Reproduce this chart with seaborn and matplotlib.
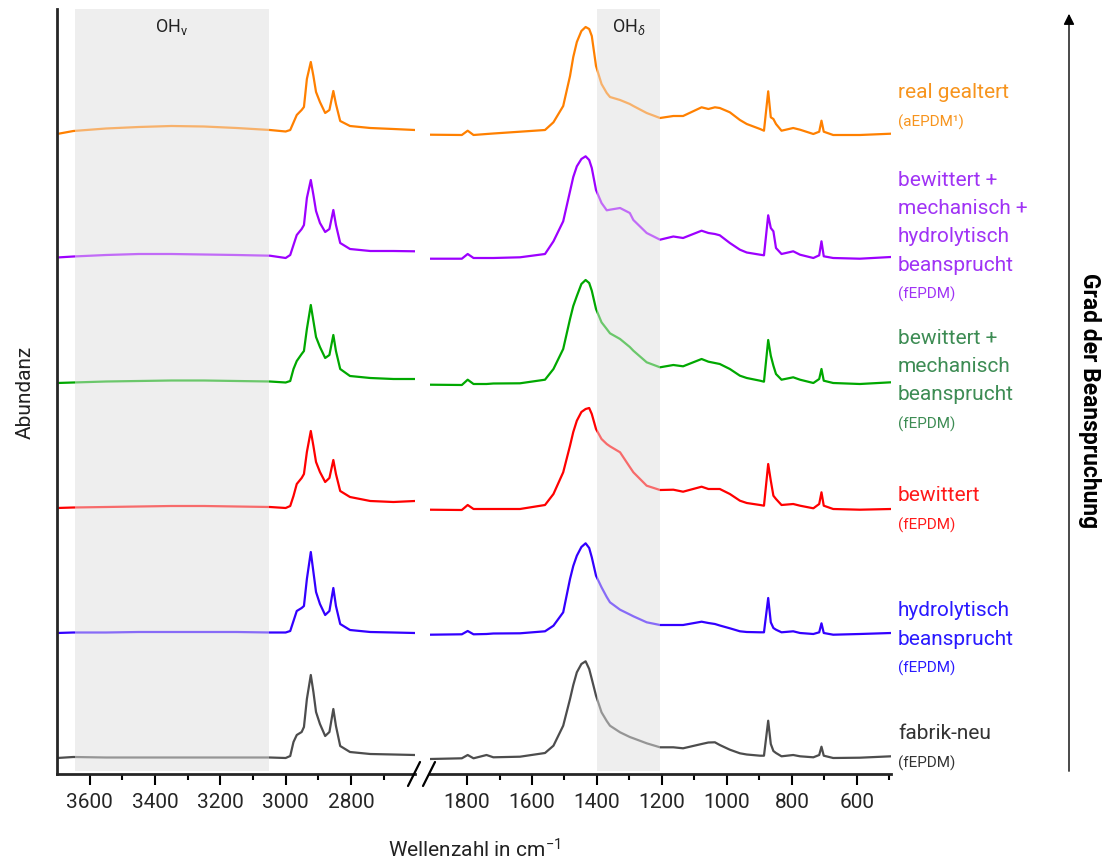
import numpy as np
import pandas as pd
import matplotlib
matplotlib.use('Agg')
import matplotlib.pyplot as plt
from matplotlib.lines import Line2D
import seaborn as sns

sns.set_style('ticks')
plt.rcParams['font.family'] = ['Roboto', 'DejaVu Sans']
plt.rcParams['mathtext.fontset'] = 'custom'
plt.rcParams['mathtext.rm'] = 'Roboto'
plt.rcParams['mathtext.it'] = 'Roboto:italic'
plt.rcParams['mathtext.bf'] = 'Roboto:bold'

# Proben, von unten nach oben
probes = ['fabrik-neu', 'hydrolytisch', 'bewittert', 'bew_mech', 'bew_mech_hydro', 'real gealtert']
line_colors = ['#4d4d4d', '#3300ff', '#ff0000', '#00a800', '#9d00ff', '#ff8000']
text_colors = ['#333333', '#2a1aff', '#ff1a1a', '#3d8c54', '#a033f5', '#f7941d']
label_lines = [['fabrik-neu'],
               ['hydrolytisch', 'beansprucht'],
               ['bewittert'],
               ['bewittert +', 'mechanisch', 'beansprucht'],
               ['bewittert +', 'mechanisch +', 'hydrolytisch', 'beansprucht'],
               ['real gealtert']]
sub_labels = ['(fEPDM)', '(fEPDM)', '(fEPDM)', '(fEPDM)', '(fEPDM)', '(aEPDM¹)']

# Wellenzahlen (cm^-1)
wn_left = [3700, 3650, 3550, 3450, 3350, 3250, 3150, 3048, 3000, 2986, 2976, 2966, 2951, 2944,
           2935, 2923, 2915, 2907, 2895, 2879, 2866, 2854, 2846, 2833, 2803, 2741, 2670, 2604]
wn_right = [1914, 1816, 1798, 1780, 1740, 1719, 1637, 1560, 1534, 1504,
            1483, 1473, 1462, 1448, 1435, 1424, 1416, 1403, 1386, 1370, 1360, 1329, 1299,
            1288, 1247, 1206, 1165, 1135, 1078, 1057, 1037, 1022, 991,
            960, 939, 898, 886, 873, 865, 857, 849, 832, 796,
            775, 734, 716, 709, 702, 673, 591, 495]

# Abundanz (relativ, x100) - OH/CH-Bereich
neu_left = [0, 1, 0.5, 0.5, 0.5, 0.5, 0.5, 0.5, 0, 2, 16, 23, 26, 31, 59, 83, 66, 46, 34, 22, 26, 49, 32, 12, 6, 4, 3.5, 3]
hydro_left = [0, 0.5, 0.5, 1, 1, 1, 1, 0.5, 0.5, 2, 12, 22, 25, 27, 54, 81, 61, 41, 29, 18, 22, 45, 27, 9, 3, 1, 0.5, 0]
bew_left = [0, 0.5, 1, 1.5, 2, 2, 1.5, 1, 0, 2, 12, 24, 30, 34, 56, 77, 62, 46, 36, 26, 30, 48, 34, 17, 11, 7, 6, 7]
bew_mech_left = [0, 0.5, 1.5, 2, 2.5, 2.5, 2, 1.5, 0.5, 2, 14, 22, 29, 32, 54, 78, 62, 46, 36, 25, 28, 48, 32, 14, 7, 5, 4, 4]
bew_mech_hydro_left = [0.5, 1.5, 3, 4, 4, 3.5, 3, 2.3, 0, 3, 13, 23, 29, 33, 60, 78, 63, 47, 35, 26, 29, 48, 33, 15, 9, 7, 7, 6.7]
real_left = [-1, 2, 4.5, 6, 7, 6.5, 5, 3, 1.5, 3, 10.5, 18, 23, 26, 54, 71, 57, 41, 31, 20, 23, 42, 29, 12, 7, 5, 4, 3]

# Abundanz (relativ, x100) - Fingerprint-Bereich
neu_right = [-1, -0.3, 3, -0.3, 3, 0.7, 1.3, 5, 12.3, 32.3,
             59, 73, 85.7, 94, 96.7, 89, 79, 62.3, 45.7, 37, 32.3, 25.7, 21,
             19.7, 14.7, 10.7, 10.7, 9.7, 14, 15.5, 15.7, 13, 8.3,
             4.7, 3.5, 2.3, 2.3, 37.3, 14, 7, 5, 1.7, 3,
             1.7, 0.7, 3, 11.3, 2.3, 0, 0.3, 1.7]
hydro_right = [-1.7, -1.3, 2, -1.3, -1, -0.5, -0.3, 1.7, 7.3, 20.7,
               54, 67, 77.3, 86, 89.7, 85, 75.7, 57.3, 45.7, 36, 30.7, 23.3, 18.5,
               16.7, 10.7, 8, 8, 8, 11.3, 10, 9, 7.5, 4.7,
               1.7, 1, 0.7, 0.7, 35, 10.7, 5, 3.3, 0.7, 1.7,
               0, -1, 0.7, 9.7, 0, -1.7, -1, 0]
bew_right = [-1.7, -2, 3, -1, -1, -1, -1, 3, 14, 35.7,
             62.3, 76, 87.3, 96, 99, 100, 94, 79, 69, 64, 61.7, 55.7, 41,
             35.7, 22.3, 18, 18.3, 16.3, 21.3, 19, 19, 19, 14,
             7.3, 5, 3, 2.3, 44, 27.3, 12.3, 9, 3, 4,
             2.3, -0.3, 4, 15.7, 2.3, -1, -1.7, -1]
bew_mech_right = [-1.7, -2, 3.3, -1, -1, -0.5, -0.3, 3.3, 14, 34,
                  64, 77, 87, 99, 103, 100, 92.3, 74, 60.7, 54, 49.7, 44, 36,
                  32.3, 20.7, 15.7, 18, 16.7, 24, 21.3, 20, 19, 14,
                  7.3, 5, 2.3, 1.3, 43, 27.3, 17.3, 9, 3.3, 5.7,
                  3.3, 0, 4, 14, 2.3, 0, -1, 0.7]
bew_mech_hydro_right = [-0.7, -0.7, 4, 0, 0, 0, 0.7, 4, 16.7, 36.7,
                        66.7, 81, 91.7, 99, 101.7, 98, 90, 68, 55, 47.7, 48.3, 50, 45,
                        38, 25, 18.3, 21.5, 20, 27.3, 25, 24, 22.7, 15,
                        8.3, 5.5, 3.3, 2.7, 42.7, 30, 26.7, 10, 4, 6.7,
                        3.3, 0, 2.7, 16.7, 1.7, 0, -0.7, 1]
real_right = [-1.7, -2, 2.3, -2, -1, -0.5, 1.3, 3, 10.7, 27,
              57, 76, 91, 102, 106, 104, 97, 67, 49, 40, 36, 33, 29,
              27, 20, 15, 17, 17, 25.7, 24, 25.7, 25, 20.7,
              13, 9, 4, 2.3, 41.7, 15.7, 14, 9, 2.3, 5,
              3.3, -1, 1.3, 12.3, 1.3, -2, -2, -0.7]

left_series = [neu_left, hydro_left, bew_left, bew_mech_left, bew_mech_hydro_left, real_left]
right_series = [neu_right, hydro_right, bew_right, bew_mech_right, bew_mech_hydro_right, real_right]

oh_v = (3645, 3050)
oh_d = (1400, 1205)

offsets = [0.16 + 1.25 * i for i in range(len(probes))]


def long_frame(wn, series):
    frames = []
    for name, vals, off in zip(probes, series, offsets):
        frames.append(pd.DataFrame({'wn': wn, 'y': np.array(vals) / 100 + off, 'probe': name}))
    return pd.concat(frames, ignore_index=True)


W, H = 1105, 862


def px_box(x0, x1, y0, y1):
    return [x0 / W, 1 - y1 / H, (x1 - x0) / W, (y1 - y0) / H]


fig = plt.figure(figsize=(W / 100, H / 100), dpi=100)
ax_l = fig.add_axes(px_box(57, 415, 10, 775))
ax_r = fig.add_axes(px_box(430, 891, 10, 775))
palette = dict(zip(probes, line_colors))

for ax, wn, series, span, lab in [(ax_l, wn_left, left_series, oh_v, r'OH$_{\mathregular{v}}$'),
                                  (ax_r, wn_right, right_series, oh_d, r'OH$_{\delta}$')]:
    df = long_frame(wn, series)
    ax.axvspan(*span, ymin=0.004, color='#eeeeee', zorder=0, lw=0)
    sns.lineplot(data=df, x='wn', y='y', hue='probe', palette=palette, sort=False,
                 estimator=None, legend=False, linewidth=1.6, ax=ax, zorder=2)
    # Linien im markierten Bereich aufhellen
    ax.axvspan(*span, ymin=0.004, color='#eeeeee', alpha=0.45, zorder=3, lw=0)
    ax.text(np.mean(span), 0.978, lab, transform=ax.get_xaxis_transform(),
            ha='center', va='center', fontsize=13, color='#222222', zorder=4)
    ax.set_ylim(0, 7.65)
    ax.set_yticks([])
    ax.set_xlabel('')
    ax.set_ylabel('')
    ax.set_facecolor('none')
    ax.tick_params(axis='x', which='major', length=8, width=1.5, labelsize=15, pad=5, color='k')
    ax.tick_params(axis='x', which='minor', length=4, width=1.5, color='k')
    ax.spines['bottom'].set_linewidth(2)
    ax.spines['left'].set_linewidth(2)

ax_l.set_xlim(3700, 2604)
ax_l.set_xticks([3600, 3400, 3200, 3000, 2800])
ax_l.set_xticks([3500, 3300, 3100, 2900, 2700], minor=True)
sns.despine(ax=ax_l)

ax_r.set_xlim(1914, 495)
ax_r.set_xticks([1800, 1600, 1400, 1200, 1000, 800, 600])
ax_r.set_xticks([1700, 1500, 1300, 1100, 900, 700, 500], minor=True)
sns.despine(ax=ax_r, left=True)

# Achsenbruch
for x0 in (408, 423):
    fig.add_artist(Line2D([x0 / W, (x0 + 12) / W], [1 - 787 / H, 1 - 763 / H], color='k', lw=1.6))

fig.text((57 + 891) / 2 / W, 1 - 850 / H, 'Wellenzahl in cm$^{-1}$', ha='center', va='center', fontsize=15, color='#222222')
fig.text(25 / W, 1 - 392 / H, 'Abundanz', rotation=90, ha='center', va='center', fontsize=15, color='#222222')

# Beschriftung der Proben
label_y = [734, 611, 496, 338, 180, 93]
for lines, sub, col, y0 in zip(label_lines, sub_labels, text_colors, label_y):
    for k, txt in enumerate(lines):
        fig.text(898 / W, 1 - (y0 + 28.5 * k) / H, txt, ha='left', va='center', fontsize=15, color=col)
    fig.text(898 / W, 1 - (y0 + 28.5 * (len(lines) - 1) + 29) / H, sub, ha='left', va='center', fontsize=11, color=col)

# Pfeil: Grad der Beanspruchung
ax_r.annotate('', xy=(1069 / W, 1 - 12 / H), xytext=(1069 / W, 1 - 775 / H), xycoords='figure fraction',
              textcoords='figure fraction', annotation_clip=False,
              arrowprops=dict(arrowstyle='-|>', color='k', lw=1, mutation_scale=16))
fig.text(1090 / W, 1 - 401 / H, 'Grad der Beanspruchung', rotation=-90, ha='center', va='center',
         fontsize=16.5, fontweight='bold', color='k')

fig.savefig('out.png', dpi=100)
